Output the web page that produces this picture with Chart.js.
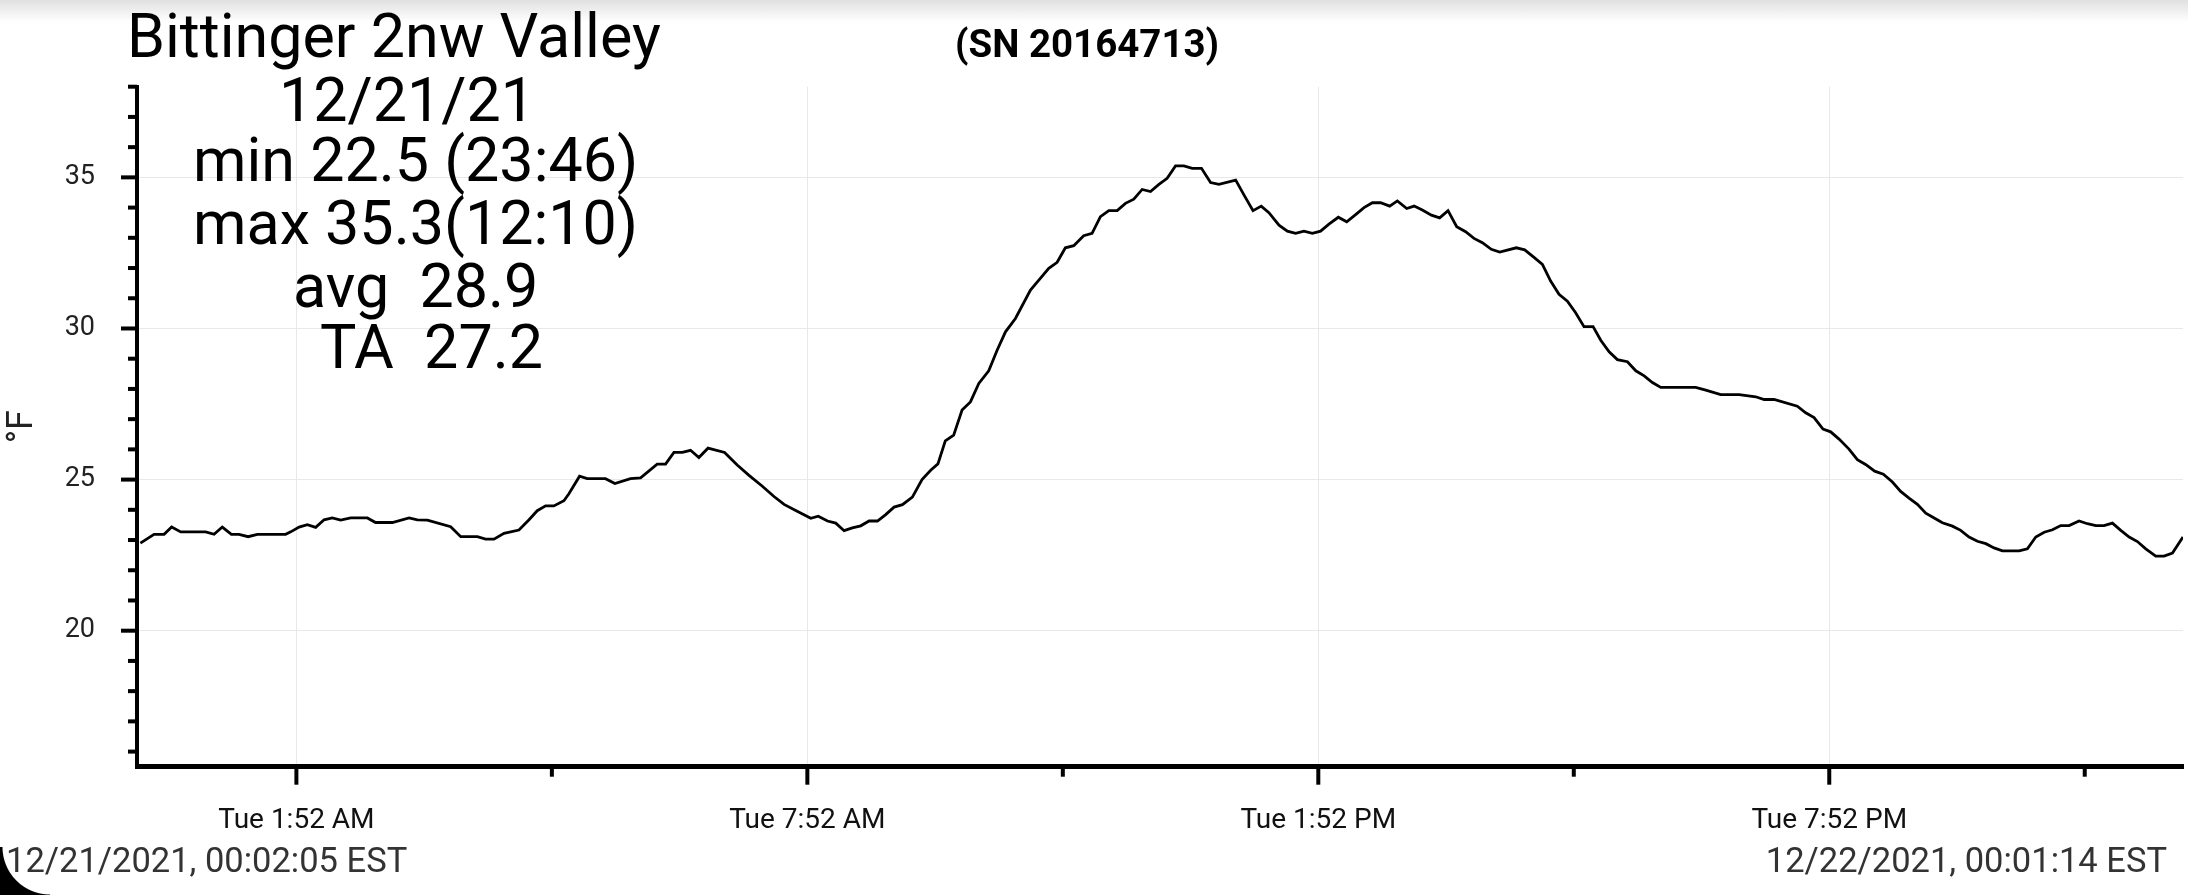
<!DOCTYPE html>
<html lang="en">
<head>
  <meta charset="UTF-8">
  <title>Bittinger 2nw Valley</title>
  <script src="https://cdn.jsdelivr.net/npm/chart.js"></script>
  <style>
    body {
      margin: 0;
      padding: 0;
      width: 2188px;
      height: 895px;
      overflow: hidden;
      background: #fff;
      font-family: Roboto, sans-serif;
    }
    #wrap {
      position: relative;
      width: 2188px;
      height: 895px;
    }
    canvas {
      display: block;
      position: absolute;
      left: 0;
      top: 0;
    }
    .topbar {
      position: absolute;
      left: 0; top: 0;
      width: 2188px; height: 22px;
      background: linear-gradient(#e0e0e0, #ffffff);
    }
    .txt {
      position: absolute;
      line-height: 1;
      white-space: pre;
      color: #000;
    }
    .big { font-size: 61px; }
    .sn { font-size: 38.5px; font-weight: bold; }
    .stamp { font-size: 34.5px; color: #333; }
    .corner {
      position: absolute;
      left: 0; bottom: 0;
      width: 50px; height: 48px;
      background: radial-gradient(circle at 100% 0, transparent 47px, #000 48px);
    }
  </style>
</head>
<body>
  <div id="wrap">
    <div class="topbar"></div>
    <canvas id="chart" width="2188" height="895"></canvas>

    <div class="txt big" style="left:127px; top:6px;">Bittinger 2nw Valley</div>
    <div class="txt sn" style="left:955px; top:25px;">(SN 20164713)</div>
    <div class="txt big" style="left:279px; top:70px;">12/21/21</div>
    <div class="txt big" style="left:193px; top:130px;">min 22.5 (23:46)</div>
    <div class="txt big" style="left:193px; top:193px;">max 35.3(12:10)</div>
    <div class="txt big" style="left:293px; top:256px;">avg  28.9</div>
    <div class="txt big" style="left:320px; top:317px;">TA  27.2</div>
    <div class="txt stamp" style="left:6px; top:843px;">12/21/2021, 00:02:05 EST</div>
    <div class="txt stamp" style="right:21px; top:843px;">12/22/2021, 00:01:14 EST</div>
    <div class="corner"></div>
  </div>

  <script>
    // minutes after midnight, 12/21/2021
    const minutes = [
      2.1, 11.7, 18.8, 24.1, 30.5, 48.1, 54.0, 59.8, 66.2, 71.6, 78.0, 84.5,
      104.4, 108.0, 113.9, 119.7, 125.6, 131.5, 137.3, 143.2, 150.3, 162.0, 167.8, 179.6,
      191.4, 197.2, 204.3, 220.7, 227.8, 239.5, 245.3, 251.2, 258.3, 268.8, 275.9, 281.7,
      287.6, 293.4, 300.5, 304.0, 311.5, 316.9, 329.8, 336.4, 347.4, 354.5, 366.2, 372.1,
      378.0, 383.9, 389.7, 395.6, 402.0, 413.7, 422.6, 430.9, 440.3, 448.5, 455.6, 463.8,
      474.4, 479.7, 486.2, 492.0, 497.9, 503.7, 509.6, 515.5, 521.4, 527.2, 533.1, 539.0,
      546.0, 552.8, 558.9, 564.0, 569.2, 575.1, 581.0, 586.9, 592.8, 599.8, 605.7, 611.6,
      618.6, 629.2, 635.1, 642.1, 648.0, 653.8, 659.7, 666.7, 672.6, 678.5, 684.4, 690.3,
      696.1, 702.0, 707.9, 713.8, 719.7, 725.5, 731.4, 737.3, 743.2, 749.7, 756.1, 762.0,
      773.8, 779.6, 786.0, 791.8, 797.2, 804.3, 810.2, 816.0, 821.9, 827.8, 833.6, 839.5,
      846.1, 852.0, 858.3, 864.2, 870.1, 875.9, 882.3, 887.7, 894.3, 899.5, 905.3, 911.7,
      917.5, 923.4, 929.5, 935.8, 941.7, 947.6, 953.9, 959.8, 971.5, 977.4, 984.0, 989.9,
      995.7, 1001.6, 1007.5, 1013.3, 1019.2, 1025.6, 1031.0, 1036.9, 1042.7, 1049.8, 1055.7, 1061.6,
      1067.4, 1073.3, 1097.9, 1105.0, 1115.5, 1128.5, 1140.2, 1146.1, 1153.1, 1169.5, 1175.4, 1181.3,
      1187.6, 1193.0, 1198.9, 1205.9, 1211.8, 1217.6, 1224.0, 1230.1, 1236.5, 1242.3, 1248.2, 1254.1,
      1260.0, 1265.9, 1271.7, 1278.8, 1284.6, 1290.5, 1296.4, 1302.3, 1308.1, 1314.0, 1325.8, 1331.6,
      1337.5, 1343.4, 1349.3, 1355.1, 1361.0, 1368.0, 1373.9, 1379.8, 1385.6, 1391.5, 1397.4, 1403.3,
      1409.1, 1415.0, 1422.0, 1427.9, 1433.8, 1441.2
    ];

    // temperature, deg F
    const tempF = [
      22.90, 23.19, 23.19, 23.43, 23.27, 23.27, 23.19, 23.43, 23.19, 23.19, 23.11, 23.19,
      23.19, 23.27, 23.43, 23.51, 23.42, 23.67, 23.73, 23.66, 23.73, 23.73, 23.58, 23.58,
      23.73, 23.67, 23.66, 23.44, 23.11, 23.11, 23.03, 23.03, 23.22, 23.33, 23.67, 23.97,
      24.13, 24.13, 24.30, 24.53, 25.11, 25.03, 25.03, 24.87, 25.03, 25.06, 25.51, 25.51,
      25.90, 25.90, 25.97, 25.73, 26.04, 25.90, 25.48, 25.14, 24.78, 24.44, 24.18, 23.98,
      23.72, 23.79, 23.63, 23.56, 23.31, 23.40, 23.47, 23.63, 23.63, 23.84, 24.09, 24.17,
      24.42, 25.00, 25.31, 25.52, 26.28, 26.47, 27.30, 27.57, 28.18, 28.60, 29.28, 29.89,
      30.33, 31.27, 31.60, 31.99, 32.19, 32.67, 32.74, 33.07, 33.15, 33.70, 33.90, 33.90,
      34.14, 34.28, 34.60, 34.53, 34.77, 34.97, 35.38, 35.38, 35.30, 35.30, 34.83, 34.77,
      34.91, 34.42, 33.90, 34.05, 33.83, 33.42, 33.22, 33.15, 33.22, 33.15, 33.22, 33.45,
      33.68, 33.53, 33.77, 34.00, 34.16, 34.16, 34.05, 34.22, 33.97, 34.05, 33.92, 33.75,
      33.66, 33.90, 33.37, 33.20, 32.98, 32.84, 32.62, 32.53, 32.67, 32.60, 32.35, 32.12,
      31.57, 31.13, 30.90, 30.52, 30.06, 30.06, 29.61, 29.23, 28.97, 28.90, 28.60, 28.43,
      28.21, 28.05, 28.05, 27.96, 27.81, 27.81, 27.74, 27.65, 27.65, 27.43, 27.21, 27.05,
      26.67, 26.58, 26.34, 26.01, 25.66, 25.50, 25.28, 25.18, 24.92, 24.61, 24.39, 24.18,
      23.89, 23.73, 23.57, 23.46, 23.32, 23.10, 22.96, 22.88, 22.74, 22.64, 22.64, 22.71,
      23.10, 23.26, 23.34, 23.48, 23.48, 23.63, 23.54, 23.48, 23.48, 23.56, 23.32, 23.10,
      22.95, 22.71, 22.47, 22.47, 22.57, 23.10
    ];

    // x axis ticks every 3 hours, labelled every 6
    const xTickMinutes = [112, 292, 472, 652, 832, 1012, 1192, 1372];
    const xTickLabels = ['Tue 1:52 AM', '', 'Tue 7:52 AM', '', 'Tue 1:52 PM', '', 'Tue 7:52 PM', ''];

    // y axis ticks every degree, labelled every 5
    const yTickValues = [16, 17, 18, 19, 20, 21, 22, 23, 24, 25, 26, 27, 28, 29, 30, 31, 32, 33, 34, 35, 36, 37, 38];
    const yLabelValues = [20, 25, 30, 35];

    // long ticks at labelled values, short ones in between
    const tickMarks = {
      id: 'tickMarks',
      afterDraw(chart) {
        const ctx = chart.ctx;
        const xs = chart.scales.x;
        const ys = chart.scales.y;
        ctx.save();
        ctx.strokeStyle = '#000';
        ctx.lineWidth = 4;
        yTickValues.forEach(v => {
          const py = ys.getPixelForValue(v);
          const len = yLabelValues.includes(v) ? 16 : 9;
          ctx.beginPath();
          ctx.moveTo(ys.right - len, py);
          ctx.lineTo(ys.right, py);
          ctx.stroke();
        });
        xTickMinutes.forEach((v, i) => {
          const px = xs.getPixelForValue(v);
          const len = xTickLabels[i] ? 18 : 10;
          ctx.beginPath();
          ctx.moveTo(px, xs.top);
          ctx.lineTo(px, xs.top + len);
          ctx.stroke();
        });
        ctx.restore();
      }
    };

    new Chart(document.getElementById('chart'), {
      type: 'line',
      data: {
        datasets: [{
          data: minutes.map((m, i) => ({ x: m, y: tempF[i] })),
          borderColor: '#000',
          borderWidth: 2.8,
          pointRadius: 0,
          tension: 0,
          fill: false
        }]
      },
      options: {
        responsive: false,
        animation: false,
        devicePixelRatio: 1,
        layout: { padding: { top: 86.7, right: 5, left: 0, bottom: 0 } },
        plugins: {
          legend: { display: false },
          tooltip: { enabled: false }
        },
        scales: {
          x: {
            type: 'linear',
            min: -0.3,
            max: 1441.23,
            afterBuildTicks: s => { s.ticks = xTickMinutes.map(v => ({ value: v })); },
            afterFit: s => { s.height = 128.3; },
            border: { color: '#000', width: 5 },
            grid: { drawTicks: false, color: '#e8e8e8', lineWidth: 1 },
            ticks: {
              padding: 37,
              maxRotation: 0,
              autoSkip: false,
              color: '#111',
              font: { family: 'Roboto', size: 28 },
              callback: (v, i) => xTickLabels[i] || null
            }
          },
          y: {
            min: 15.5,
            max: 38,
            afterBuildTicks: s => { s.ticks = yTickValues.map(v => ({ value: v })); },
            afterFit: s => { s.width = 137; },
            border: { color: '#000', width: 4 },
            grid: { drawTicks: false, color: '#e8e8e8', lineWidth: 1 },
            ticks: {
              padding: 42,
              autoSkip: false,
              color: '#222',
              font: { family: 'Roboto', size: 27 },
              callback: v => yLabelValues.includes(v) ? String(v) : null
            },
            title: {
              display: true,
              text: '°F',
              color: '#222',
              font: { family: 'Roboto', size: 36 },
              padding: { top: 1, bottom: 0 }
            }
          }
        }
      },
      plugins: [tickMarks]
    });
  </script>
</body>
</html>
